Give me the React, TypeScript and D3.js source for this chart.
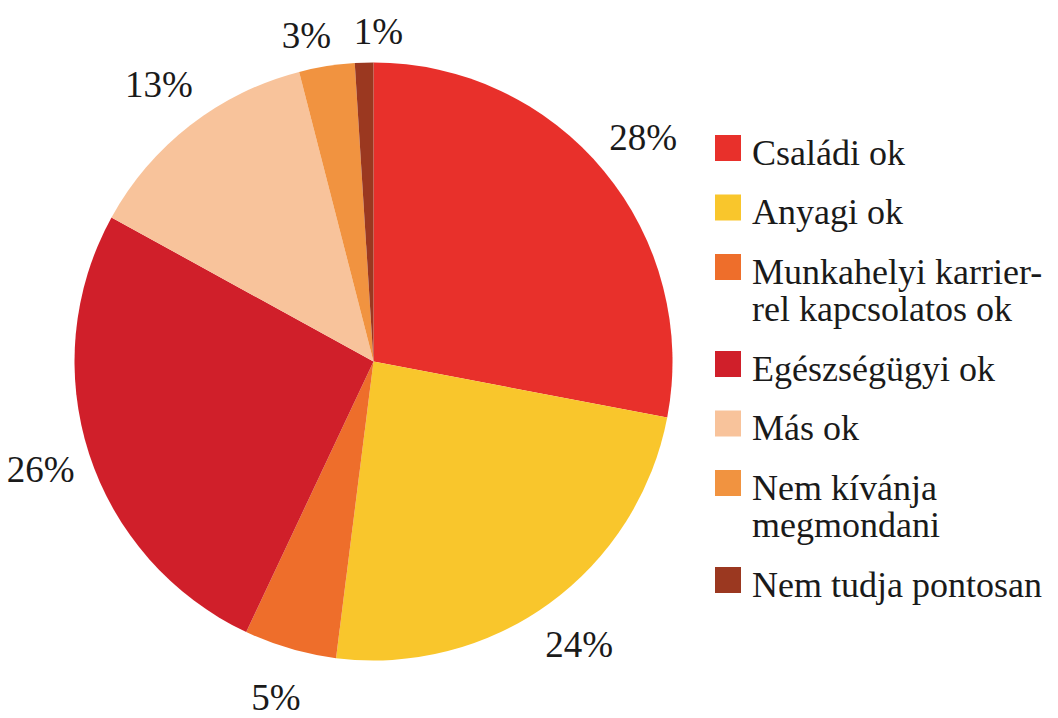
import React from "react";
import * as d3 from "d3";

const categories = [
  "Családi ok",
  "Anyagi ok",
  "Munkahelyi karrierrel kapcsolatos ok",
  "Egészségügyi ok",
  "Más ok",
  "Nem kívánja megmondani",
  "Nem tudja pontosan",
];
const legendLines = [
  ["Családi ok"],
  ["Anyagi ok"],
  ["Munkahelyi karrier-", "rel kapcsolatos ok"],
  ["Egészségügyi ok"],
  ["Más ok"],
  ["Nem kívánja", "megmondani"],
  ["Nem tudja pontosan"],
];
const values = [28, 24, 5, 26, 13, 3, 1];
const colors = ["#E8302B", "#F9C62C", "#EE6E2B", "#D01F2A", "#F8C39B", "#F19340", "#9B3820"];

const W = 1058;
const H = 718;
const cx = 373.5;
const cy = 361.5;
const R = 299;
const FONT = `"Liberation Serif", "Tinos", "Times New Roman", serif`;

export default function App() {
  const pie = d3.pie<number>().sort(null).value((d) => d)(values);
  const arc = d3.arc<d3.PieArcDatum<number>>().innerRadius(0).outerRadius(R);

  const labelPos = pie.map((p) => {
    const mid = (p.startAngle + p.endAngle) / 2;
    const r = p.data < 5 ? 330 : 350;
    return { x: r * Math.sin(mid), y: -r * Math.cos(mid), mid };
  });
  for (let i = 0; i < labelPos.length - 1; i++) {
    const a = labelPos[i];
    const b = labelPos[i + 1];
    if (values[i] < 5 && values[i + 1] < 5) {
      const gap = 72;
      if (Math.abs(b.x - a.x) < gap) {
        const m = (a.x + b.x) / 2;
        a.x = m - gap / 2;
        b.x = m + gap / 2;
      }
    }
  }

  const legendX = 715;
  const legendTop = 135;
  const rowPitch = 59.5;
  const linePitch = 37.5;
  let extra = 0;
  const legendRows = legendLines.map((lines, i) => {
    const top = legendTop + rowPitch * i + linePitch * extra;
    extra += lines.length - 1;
    return { top, lines, i };
  });

  return (
    <svg width={W} height={H} style={{ position: "absolute", left: 0, top: 0, background: "#fff" }}>
      <g transform={`translate(${cx},${cy})`}>
        {pie.map((p, i) => (
          <path key={categories[i]} d={arc(p) || ""} fill={colors[i]} />
        ))}
      </g>
      {pie.map((p, i) => (
        <text
          key={"l" + i}
          x={cx + labelPos[i].x}
          y={cy + labelPos[i].y + 12}
          textAnchor="middle"
          style={{ fontFamily: FONT, fontSize: 37 }}
          fill="#1a1a1a"
        >
          {`${values[i]}%`}
        </text>
      ))}
      {legendRows.map((row) => (
        <rect key={"r" + row.i} x={legendX} y={row.top} width={26} height={26} fill={colors[row.i]} />
      ))}
      {legendRows.map((row) =>
        row.lines.map((ln, j) => (
          <text
            key={"t" + row.i + "_" + j}
            x={752}
            y={row.top + 29.5 + j * linePitch}
            style={{ fontFamily: FONT, fontSize: 36 }}
            fill="#1a1a1a"
          >
            {ln}
          </text>
        ))
      )}
    </svg>
  );
}
